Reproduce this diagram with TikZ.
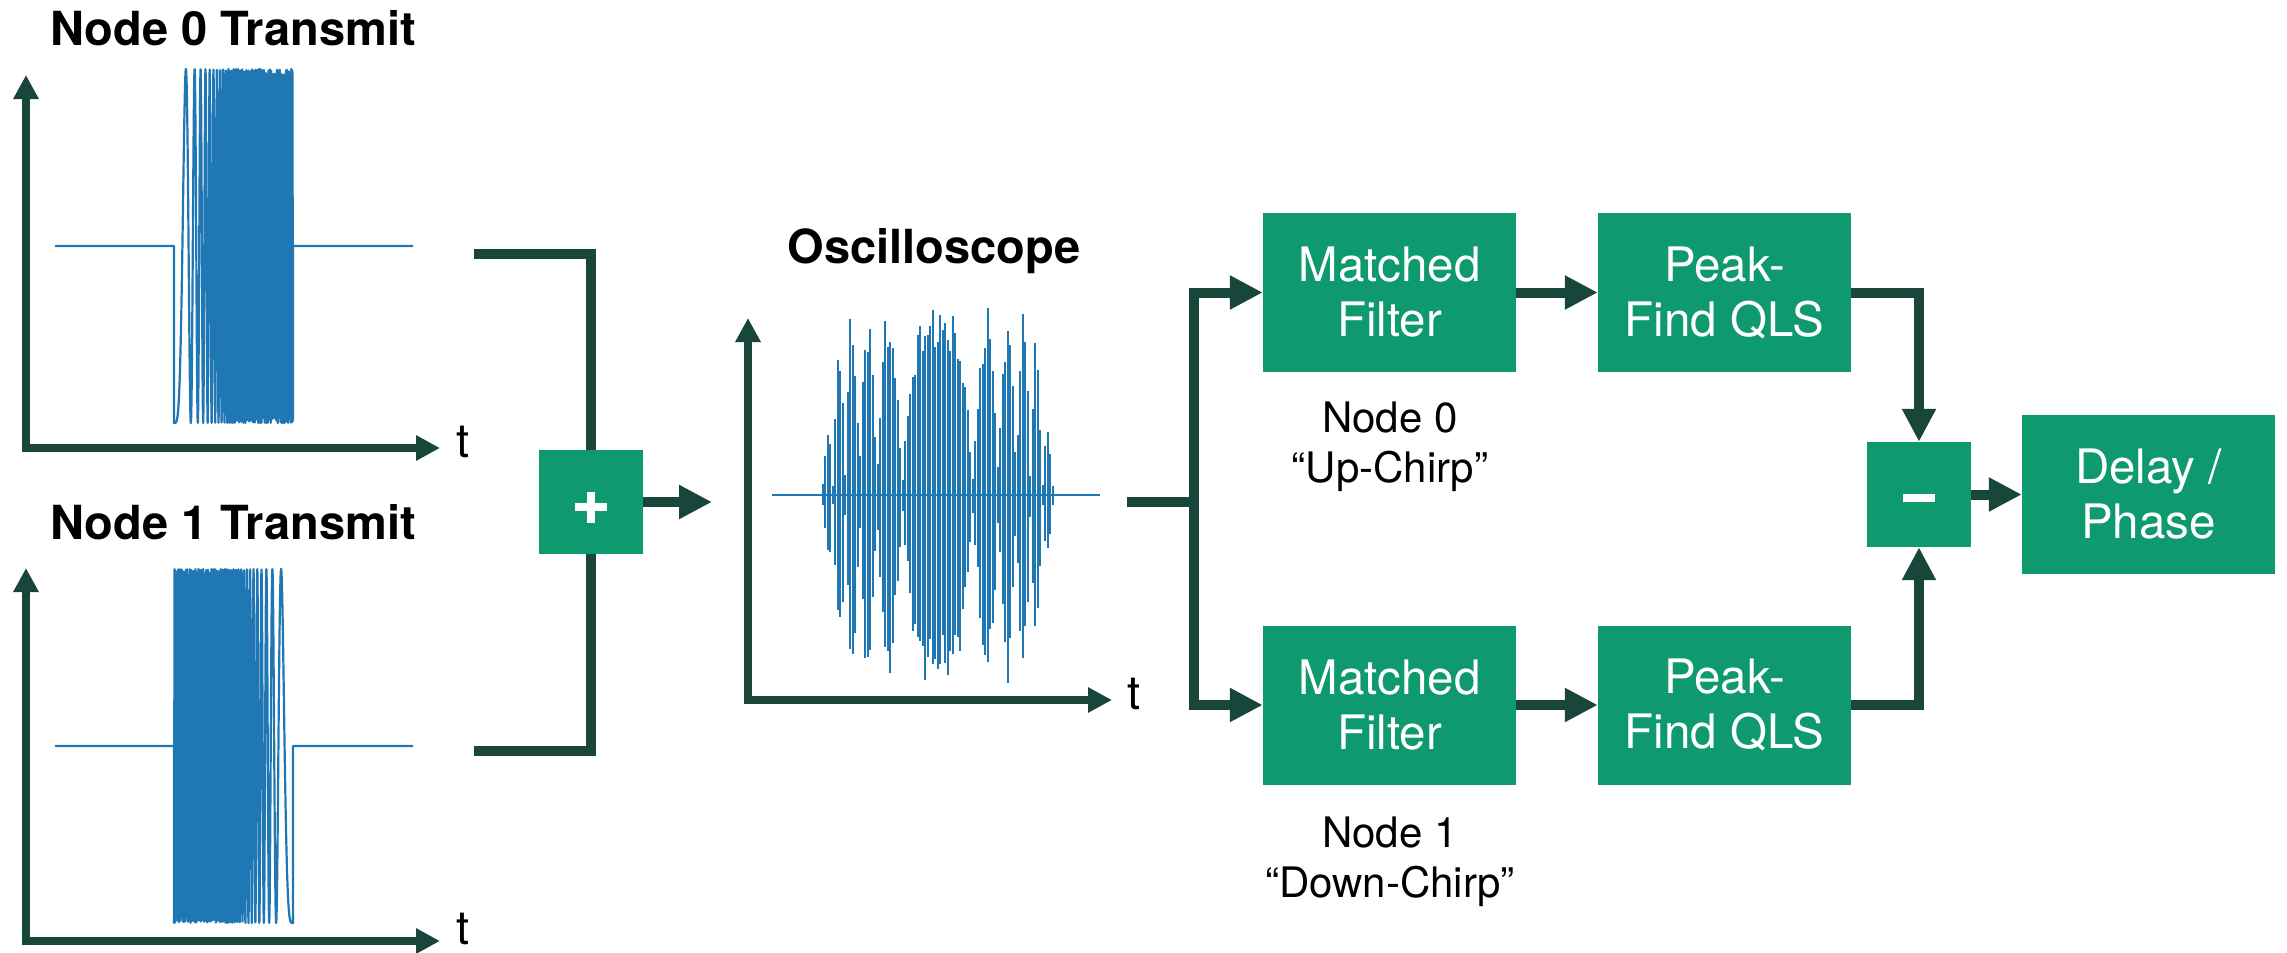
\documentclass[tikz,border=0pt]{standalone}
\usepackage{fontspec}
\setmainfont{TeX Gyre Heros}
\usetikzlibrary{arrows.meta}
\definecolor{boxgreen}{RGB}{14,154,110}
\definecolor{linegreen}{RGB}{25,70,58}
\definecolor{sigblue}{RGB}{31,119,180}
\begin{document}
\begin{tikzpicture}[x=1pt,y=-1pt,
  box/.style={fill=boxgreen,text=white,minimum width=253pt,minimum height=159pt,
    inner sep=0pt,align=center,font=\fontsize{47.5}{55}\selectfont},
  opbox/.style={fill=boxgreen,minimum width=104pt,minimum height=104pt,inner sep=0pt},
  conn/.style={draw=linegreen,line width=10pt},
  arr/.style={conn,-{Triangle[length=33pt,width=32pt]}},
  axisline/.style={draw=linegreen,line width=8pt,
    {Triangle[length=24pt,width=24pt]}-{Triangle[length=24pt,width=24pt]}},
  sig/.style={draw=sigblue,line width=2.2pt,line join=round},
  heading/.style={anchor=base,inner sep=0pt,font=\fontsize{47}{55}\selectfont\bfseries},
  tlabel/.style={anchor=base west,inner sep=0pt,font=\fontsize{47}{55}\selectfont},
  note/.style={align=center,inner sep=0pt,font=\fontsize{42}{50}\selectfont}
]
\useasboundingbox (0,0) rectangle (2287,953);

% ---------- transmitted chirps ----------
\node[heading] (title0) at (233,45) {Node 0 Transmit};
\node[heading] (title1) at (233,539) {Node 1 Transmit};

\coordinate (y0) at (26,75);  \coordinate (o0) at (26,448);  \coordinate (x0) at (440,448);
\coordinate (y1) at (26,568); \coordinate (o1) at (26,941);  \coordinate (x1) at (440,941);
\draw[axisline] (y0) -- (o0) -- (x0);
\draw[axisline] (y1) -- (o1) -- (x1);
\node[tlabel] (t0) at (456,457) {t};
\node[tlabel] (t1) at (456,944) {t};

% up-chirp
\draw[sig] (55,246) -- (174,246) --
  plot[domain=0:1,samples=1000,variable=\u]
    ({174+119*\u},{246+177*cos(360*frac(50*\u*\u))})
  -- (293,246) -- (413,246);
% down-chirp
\draw[sig] (55,746) -- (174,746) --
  plot[domain=0:1,samples=1000,variable=\u]
    ({174+119*\u},{746+177*cos(360*frac(50*(1-\u)*(1-\u)))})
  -- (293,746) -- (413,746);

% ---------- summing junction ----------
\node[opbox] (plus) at (591,502) {};
\fill[white] ([shift={(-16,1)}]plus.center) rectangle +(32,8);
\fill[white] ([shift={(-4,-10.5)}]plus.center) rectangle +(8,31);
\coordinate (in0) at (474,254);
\coordinate (in1) at (474,751);
\draw[conn] (in0) -| (plus.north);
\draw[conn] (in1) -| (plus.south);
\coordinate (scopein) at (712,502);
\draw[arr] (plus.east) -- (scopein);

% ---------- oscilloscope trace: beat of the two chirps ----------
\node[heading] (titleosc) at (934,263) {Oscilloscope};
\coordinate (ys) at (748,318); \coordinate (os) at (748,700); \coordinate (xs) at (1112,700);
\draw[axisline] (ys) -- (os) -- (xs);
\node[tlabel] (ts) at (1127,709) {t};
\draw[sig,line width=2pt] (772,494.5) -- (1100,494.5);
\foreach \k in {0,...,92}{
  \pgfmathsetmacro\d{2.5*(\k-46)}
  \pgfmathsetmacro\A{177*min(1,(119-abs(\d))/25)*(0.1+0.9*abs(cos(0.07347*\d*\d)))*(0.93+0.07*cos(\k*131))}
  \pgfmathsetmacro\w{0.08*sin(\k*77)}
  \draw[sig,line width=1.8pt]
    ({937.7+\d},{494.5-\A*(1+\w)}) -- ({937.7+\d},{494.5+\A*(1-\w)});
}

% ---------- processing chain ----------
\node[box] (mf1) at (1389.5,292.5) {Matched\\Filter};
\node[box] (pf1) at (1724.5,292.5) {Peak-\\Find QLS};
\node[box] (mf2) at (1389.5,705) {Matched\\Filter};
\node[box] (pf2) at (1724.5,705) {Peak-\\Find QLS};
\node[opbox,minimum height=105pt] (minus) at (1919,494.5) {};
\fill[white] ([shift={(-16,-0.5)}]minus.center) rectangle +(32,8);
\node[box] (delay) at (2148.5,494.5) {Delay /\\Phase};

\node[note] (lbl0) at (1390,447) {Node 0\\“Up-Chirp”};
\node[note] (lbl1) at (1390,862) {Node 1\\“Down-Chirp”};

\coordinate (scopeout) at (1127,502);
\coordinate (split) at (1194,502);
\draw[conn] (scopeout) -- (split);
\draw[arr] (split) |- (mf1.west);
\draw[arr] (split) |- (mf2.west);
\draw[arr] (mf1) -- (pf1);
\draw[arr] (mf2) -- (pf2);
\draw[arr] (pf1.east) -| (minus.north);
\draw[arr] (pf2.east) -| (minus.south);
\draw[arr] (minus) -- (delay);
\end{tikzpicture}
\end{document}
